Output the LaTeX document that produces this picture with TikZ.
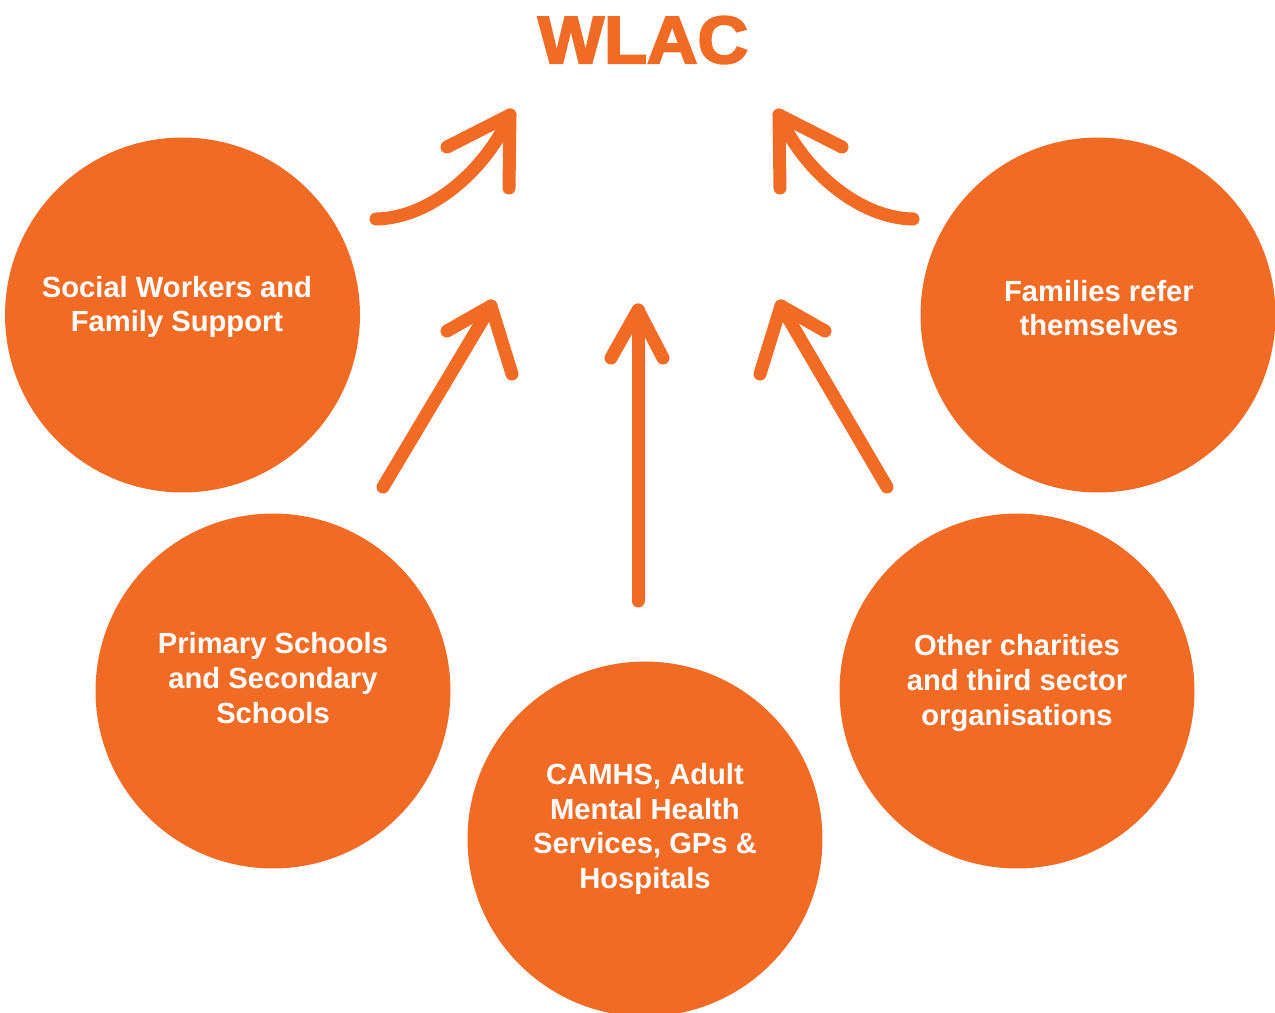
\documentclass[tikz,border=0pt]{standalone}
\usepackage{fontspec}
\setmainfont{Liberation Sans}
\newfontfamily\titlefont[FakeBold=3]{Liberation Sans}
\definecolor{wlac}{HTML}{F26B25}
\begin{document}
\begin{tikzpicture}[x=0.02cm,y=-0.02cm,
  source/.style={circle, fill=wlac, minimum size=7.1cm, inner sep=0pt},
  srctext/.style={text=white, inner sep=0pt, align=center,
    font=\fontsize{16.6}{19.8}\selectfont\bfseries},
  flow/.style={draw=wlac, line width=0.26cm, line cap=round, line join=round}]
\useasboundingbox (0,0) rectangle (1275,1012);

% heading
\node[text=wlac, anchor=base, inner sep=0pt, xscale=1.05,
      font=\titlefont\bfseries\fontsize{38}{42}\selectfont] (title) at (643,63) {WLAC};

% referral sources
\node[source] (sw)  at (182.5,315) {};
\node[source] (fam) at (1098,315) {};
\node[source] (sch) at (273,691) {};
\node[source] (oth) at (1017,691) {};
\node[source] (nhs) at (645,839) {};

\node[srctext] (swt)  at (177,307)  {Social Workers and\\Family Support};
\node[srctext] (famt) at (1099,308) {Families refer\\themselves};
\node[srctext] (scht) at (273,678)  {Primary Schools\\and Secondary\\Schools};
\node[srctext] (otht) at (1017,683) {Other charities\\and third sector\\organisations};
\node[srctext] (nhst) at (645,829)  {CAMHS, Adult\\Mental Health\\Services, GPs \&\\Hospitals};

% arrow geometry
\coordinate (a1s) at (376,219);  \coordinate (a1t) at (510,115);
\coordinate (a1l) at (447,147);  \coordinate (a1d) at (509,188);
\coordinate (a2s) at (913,219);  \coordinate (a2t) at (779,115);
\coordinate (a2r) at (842,147);  \coordinate (a2d) at (780,188);
\coordinate (a3s) at (383,487);  \coordinate (a3t) at (491,306);
\coordinate (a3l) at (447,331);  \coordinate (a3r) at (512,374);
\coordinate (a4s) at (638,601);  \coordinate (a4t) at (638,310);
\coordinate (a4l) at (611,358);  \coordinate (a4r) at (663,358);
\coordinate (a5s) at (887,487);  \coordinate (a5t) at (781,306);
\coordinate (a5r) at (825,331);  \coordinate (a5l) at (760,374);

% curved arrows
\draw[flow] (a1s) .. controls (432,218) and (487,168) .. (a1t);
\draw[flow] (a1l) -- (a1t) -- (a1d);
\draw[flow] (a2s) .. controls (857,218) and (802,168) .. (a2t);
\draw[flow] (a2r) -- (a2t) -- (a2d);

% straight arrows
\draw[flow] (a3s) -- (a3t);
\draw[flow] (a3l) -- (a3t) -- (a3r);
\draw[flow] (a4s) -- (a4t);
\draw[flow] (a4l) -- (a4t) -- (a4r);
\draw[flow] (a5s) -- (a5t);
\draw[flow] (a5r) -- (a5t) -- (a5l);
\end{tikzpicture}
\end{document}
